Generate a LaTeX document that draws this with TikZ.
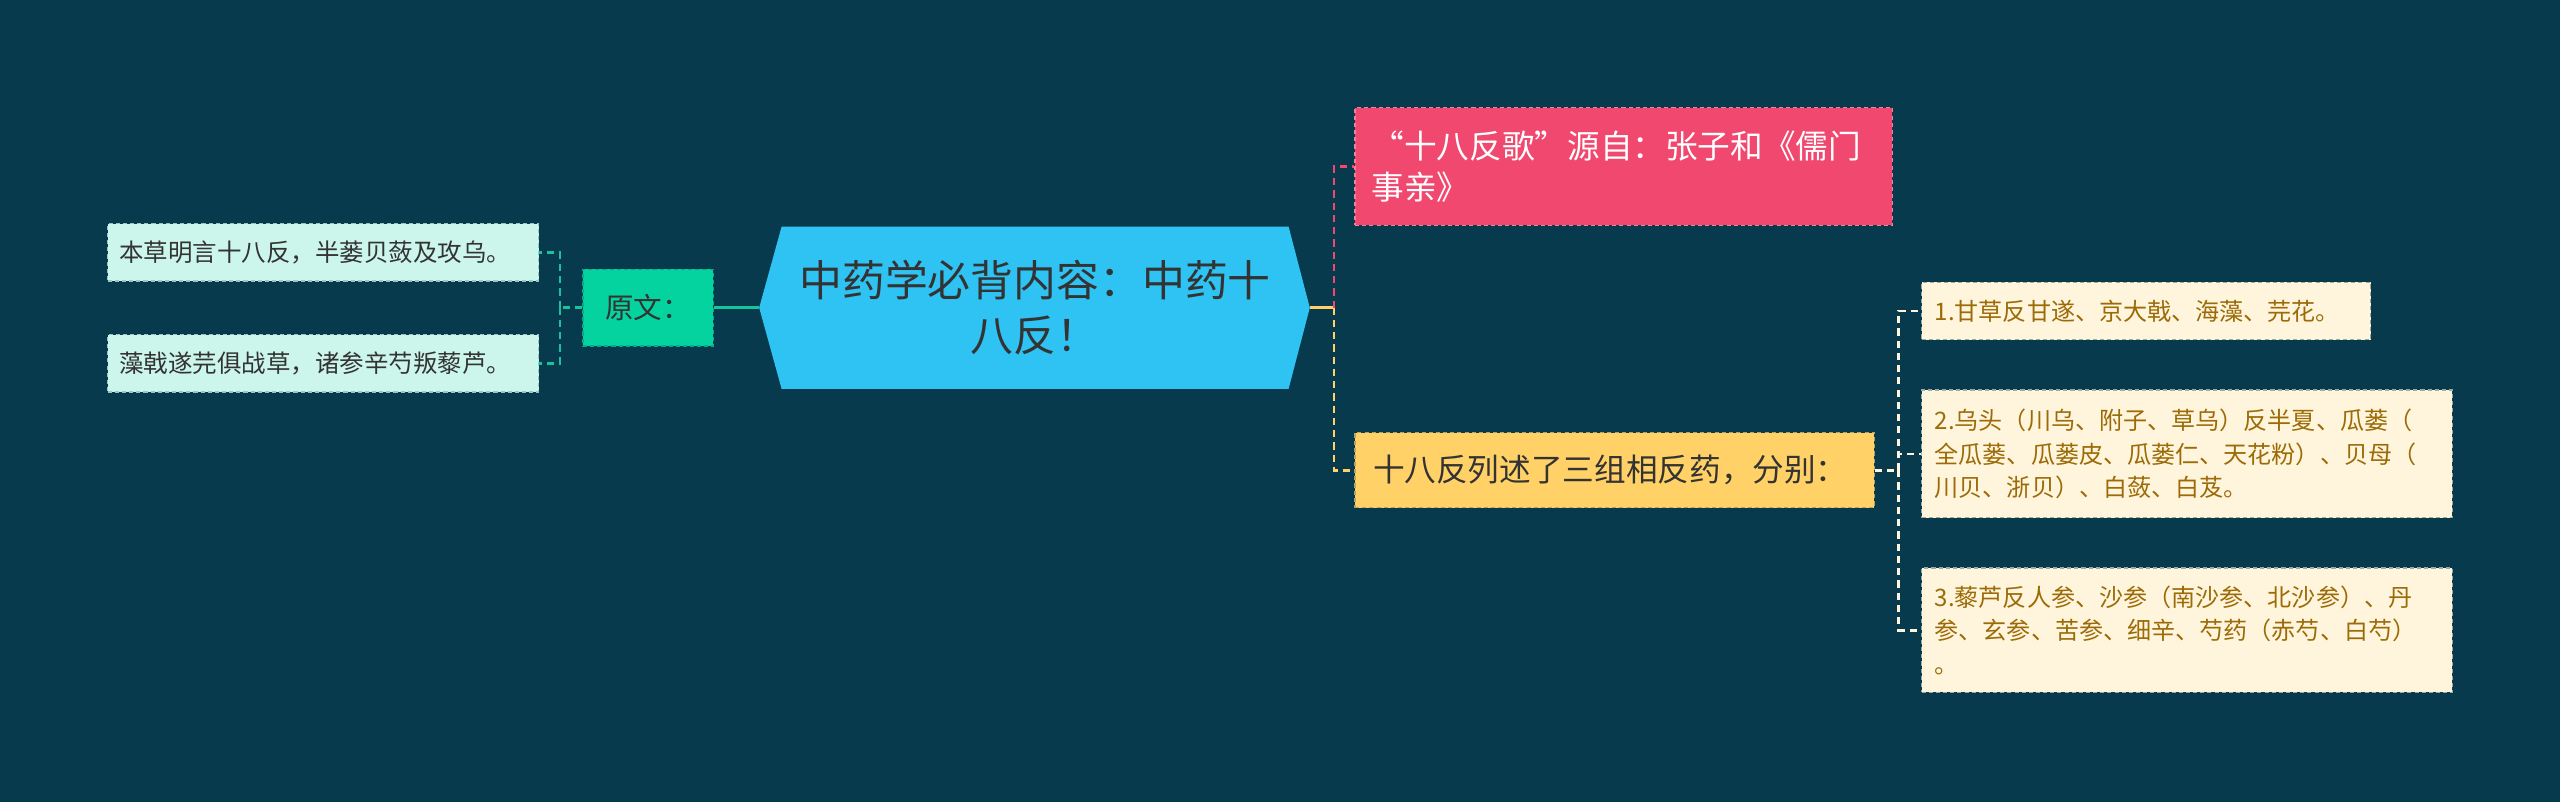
\documentclass[tikz,border=0pt]{standalone}
\usepackage{fontspec}
\setmainfont{Noto Sans CJK SC}
\usetikzlibrary{backgrounds}

\definecolor{bgcol}{HTML}{083A4D}
\definecolor{rootcol}{HTML}{2EC3F3}
\definecolor{srccol}{HTML}{04D29F}
\definecolor{mintcol}{HTML}{CCF6EB}
\definecolor{pinkcol}{HTML}{F0486F}
\definecolor{goldcol}{HTML}{FFD166}
\definecolor{creamcol}{HTML}{FFF5DC}
\definecolor{browncol}{HTML}{9C6B08}
\definecolor{darktxt}{HTML}{333333}
\definecolor{tealline}{HTML}{18C29C}

\begin{document}
\begin{tikzpicture}[x=0.8pt,y=-0.8pt,
  box/.style={rectangle, anchor=center, align=left, inner ysep=0pt,
    dash pattern=on 2pt off 1.5pt, line width=0.7pt},
  leafbox/.style={box, fill=mintcol, draw=mintcol!75!bgcol, text=darktxt,
    font=\fontsize{12}{15}\selectfont, inner xsep=5.6pt, text width=200pt,
    minimum height=28pt},
  srcbox/.style={box, align=center, fill=srccol, draw=srccol!75!bgcol, text=darktxt,
    font=\fontsize{14}{17}\selectfont, inner xsep=0pt, minimum width=64pt,
    minimum height=37.6pt},
  songbox/.style={box, fill=pinkcol, draw=pinkcol!70!white, text=white,
    font=\fontsize{16}{20}\selectfont, inner xsep=8pt, text width=247.2pt,
    minimum height=57.6pt},
  fanbox/.style={box, fill=goldcol, draw=goldcol!70!bgcol, text=darktxt,
    font=\fontsize{15.5}{19}\selectfont, inner xsep=8.8pt, text width=236.8pt,
    minimum height=36.8pt},
  itembox/.style={box, fill=creamcol, draw=creamcol!60!bgcol, text=browncol,
    font=\fontsize{11.8}{16.5}\selectfont, inner xsep=6.4pt},
  link/.style={line width=1.3pt},
  dlink/.style={link, dash pattern=on 3.5pt off 2.5pt}]

%% centre
\node[font=\fontsize{21}{27}\selectfont, align=center, text=darktxt, inner sep=0pt,
  minimum width=248pt, minimum height=79.2pt] (root) at (634,188.5)
  {中药学必背内容：中药十\\八反！};
\coordinate (rootL) at ([xshift=-11pt]root.west);
\coordinate (rootR) at ([xshift=10.4pt]root.east);
\begin{scope}[on background layer]
\fill[bgcol] (0,0) rectangle (1568,491);   %% background
\fill[rootcol] (root.north west) -- (root.north east) -- (rootR)
  -- (root.south east) -- (root.south west) -- (rootL) -- cycle;
\end{scope}

%% left side
\node[srcbox] (src) at (397,188.5) {原文：};
\node[leafbox] (l1) at (198,154.5) {本草明言十八反，半蒌贝蔹及攻乌。};
\node[leafbox] (l2) at (198,222.5) {藻戟遂芫俱战草，诸参辛芍叛藜芦。};

%% right side
\node[songbox] (song) at (994.5,102) {“十八反歌”源自：张子和《儒门\\事亲》};
\node[fanbox] (fan) at (989,288) {十八反列述了三组相反药，分别：};
\node[itembox, text width=207.2pt, minimum height=28pt] (i1) at (1314.5,190.5)
  {1.甘草反甘遂、京大戟、海藻、芫花。};
\node[itembox, text width=247.2pt, minimum height=62.4pt] (i2) at (1339.5,278)
  {2.乌头（川乌、附子、草乌）反半夏、瓜蒌（\\全瓜蒌、瓜蒌皮、瓜蒌仁、天花粉）、贝母（\\川贝、浙贝）、白蔹、白芨。};
\node[itembox, text width=247.2pt, minimum height=60.8pt] (i3) at (1339.5,386)
  {3.藜芦反人参、沙参（南沙参、北沙参）、丹\\参、玄参、苦参、细辛、芍药（赤芍、白芍）\\。};

%% junctions
\coordinate (jl) at (343,188.5);
\coordinate (jr) at (817,188.5);
\coordinate (ji) at (1163,288);

%% edges
\draw[link, tealline] (rootL) -- (src.east);
\draw[dlink, tealline] (src.west) -- (jl);
\draw[dlink, tealline] (jl) |- (l1.east);
\draw[dlink, tealline] (jl) |- (l2.east);
\draw[link, goldcol] (rootR) -- (jr);
\draw[dlink, pinkcol] (jr) |- (song.west);
\draw[dlink, goldcol] (jr) |- (fan.west);
\draw[dlink, creamcol] (fan.east) -- (ji);
\draw[dlink, creamcol] (ji) |- (i1.west);
\draw[dlink, creamcol] (ji) |- (i2.west);
\draw[dlink, creamcol] (ji) |- (i3.west);
\end{tikzpicture}
\end{document}
